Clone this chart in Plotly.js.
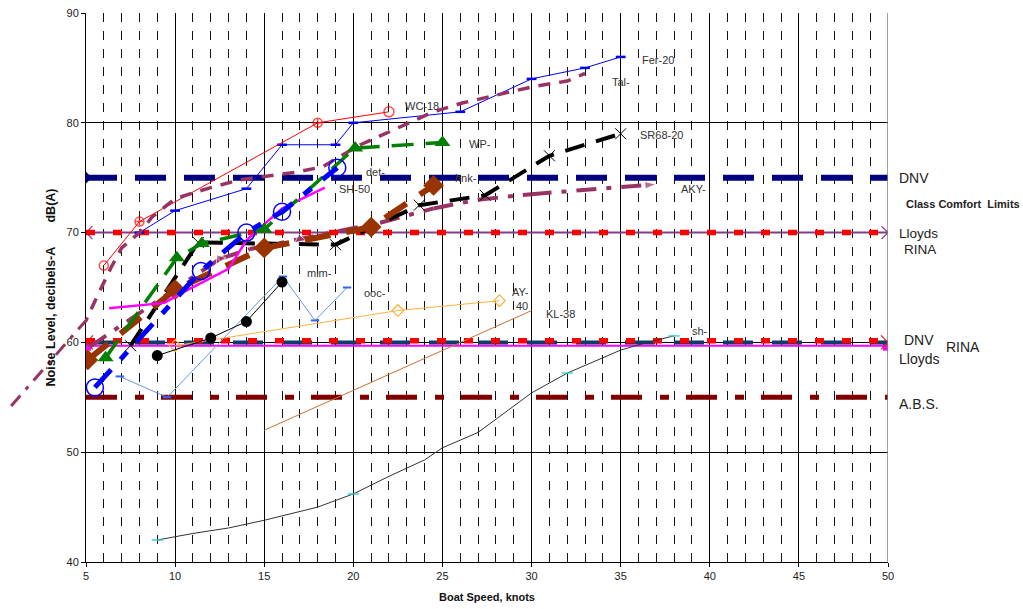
<!DOCTYPE html>
<html><head><meta charset="utf-8">
<script src="https://cdn.plot.ly/plotly-3.0.1.min.js"></script>
<style>html,body{margin:0;padding:0;background:#fff}#chart{width:1023px;height:609px}</style>
</head><body><div id="chart"></div>
<script>
// ---------------- data ----------------
const limitX        = [5, 50];
const dnvComfort    = [75, 75];
const lloydsComfort = [70, 70];
const rinaComfort   = [70, 70];
const dnvLimit      = [60, 60];
const lloydsLimit   = [60.15, 60.15];
const rinaLimit     = [59.7, 59.7];
const absLimit      = [55, 55];

const ferX = [8, 10, 14, 16, 19, 20, 26, 30, 33, 35];
const ferY = [70, 72, 74, 78, 78, 80, 81, 84, 85, 86];

const wcX = [6, 8, 18, 22];
const wcY = [67, 71, 80, 81];

const talX = [0.8, 5.0, 5.6, 6.4, 7.0, 8.0, 8.7, 10, 11, 12, 13.6, 16.8, 18.3, 19.2, 20.4, 21.5, 22.4, 24.5, 26.1, 28.2, 30.1, 32, 33];
const talY = [54.2, 62, 64.1, 66.8, 68.6, 70, 71.4, 73.1, 73.6, 74.1, 74.8, 75.5, 76, 76.9, 78, 78.8, 79.5, 81, 81.8, 82.6, 83.3, 83.8, 84.5];

const wpX = [6.1, 10.1, 11.5, 15, 20.1, 25];
const wpY = [58.6, 67.7, 69, 70.3, 77.7, 78.2];

const detX = [5.5, 11.45, 14, 16, 19.1];
const detY = [55.9, 66.5, 70, 71.9, 75.9];

const sh50X = [6.3, 9.4, 10.6, 13, 14, 16, 18.4];
const sh50Y = [63.1, 63.6, 64.7, 66.7, 69.3, 72.2, 74.1];

const hnkX = [5.1, 10, 15, 21, 24.5];
const hnkY = [58.4, 64.8, 68.6, 70.5, 74.3];

const srX = [7.5, 11.3, 19, 23.7, 27.4, 31, 35];
const srY = [59.7, 69.1, 68.9, 72.5, 73.4, 77, 79];

const akyX = [5.2, 12.5, 14.2, 17, 18.5, 21.5, 24.5, 27, 30, 34, 37];
const akyY = [59.6, 67.6, 68.5, 69.4, 69.9, 70.9, 72.2, 73, 73.5, 74, 74.4];

const mimX = [9, 12, 14, 16];
const mimY = [58.8, 60.4, 61.9, 65.5];

const oocX = [6.9, 9.55, 16.05, 17.85, 19.65];
const oocY = [56.9, 55.0, 66.0, 62.0, 65.0];

const ayX = [10, 22.5, 28.2];
const ayY = [59.7, 62.9, 63.8];

const klX = [15, 30];
const klY = [52, 62.9];

const shX = [9, 11, 13, 15, 18, 20, 22, 24, 25, 27, 30, 32, 33, 35, 36.5, 38];
const shY = [42, 42.6, 43.1, 43.8, 45, 46.2, 47.8, 49.3, 50.4, 51.8, 55.4, 57.2, 57.9, 59.3, 60, 60.6];
const shMarked = [9, 20, 32, 38];

const xTickStart = 5, xTickStep = 5;
const yTickStart = 40, yTickStep = 10;

// ---------------- drawing ----------------
const FONT = 'Liberation Sans, Arial, Helvetica, sans-serif';
const traces = [];
function add(t) { t.hoverinfo = 'skip'; t.showlegend = false; traces.push(t); }

// class limit lines
add({x: limitX, y: absLimit, mode: 'lines', line: {color: '#800000', width: 5, dash: '31px,18px,9px,17px'}});
add({x: limitX, y: rinaLimit, mode: 'lines+markers', line: {color: '#FF00FF', width: 2},
     marker: {symbol: 'square', size: 10, color: '#FF00FF'}});
add({x: limitX, y: dnvLimit, mode: 'lines', line: {color: '#0d3b6b', width: 4, dash: '30px,19px'}});
add({x: limitX, y: dnvLimit, mode: 'markers', marker: {symbol: 'x-thin-open', size: 14, line: {color: '#33DDEE', width: 1.2}}});
add({x: limitX, y: lloydsLimit, mode: 'lines', line: {color: '#FF0000', width: 5.5, dash: '9px,18px'}});
add({x: limitX, y: rinaComfort, mode: 'lines+markers', line: {color: '#803d8a', width: 2},
     marker: {symbol: 'x-thin-open', size: 13, line: {color: '#803d8a', width: 1.2}}});
add({x: limitX, y: lloydsComfort, mode: 'lines', line: {color: '#FF0000', width: 5.5, dash: '9px,18px'}});
add({x: limitX, y: dnvComfort, mode: 'lines', line: {color: '#000080', width: 6, dash: '31px,18px'}});
add({x: [limitX[0]], y: [dnvComfort[0]], mode: 'markers', marker: {symbol: 'diamond', size: 9, color: '#000080'}});

// boat series
add({x: shX, y: shY, mode: 'lines+markers', line: {color: '#333333', width: 1},
     marker: {symbol: 'line-ew', size: shX.map(v => shMarked.includes(v) ? 8 : 0), line: {color: '#33CCCC', width: 2}}});
add({x: klX, y: klY, mode: 'lines', line: {color: '#C87137', width: 1}});
add({x: ayX, y: ayY, mode: 'lines+markers', line: {color: '#FFB040', width: 1},
     marker: {symbol: 'diamond-open', size: 9, line: {color: '#FFA020', width: 1.2}}});
add({x: oocX, y: oocY, mode: 'lines+markers', line: {color: '#6495ED', width: 1},
     marker: {symbol: 'line-ew', size: 6, line: {color: '#3366FF', width: 2}}});
add({x: mimX, y: mimY, mode: 'lines+markers', line: {color: '#000000', width: 1},
     marker: {symbol: 'circle', size: 11, color: '#000000'}});
add({x: ferX, y: ferY, mode: 'lines+markers', line: {color: '#0000FF', width: 1},
     marker: {symbol: 'line-ew', size: 7, line: {color: '#0000FF', width: 2.5}}});
add({x: wcX, y: wcY, mode: 'lines+markers', line: {color: '#FF0000', width: 1},
     marker: {symbol: ['circle-open', 'circle-cross-open', 'circle-cross-open', 'circle-open'], size: [9, 9, 9, 10], line: {color: '#FF0000', width: 1.5}}});
add({x: talX, y: talY, mode: 'lines', line: {color: '#993366', width: 3.5, dash: '12px,9px'}});
add({x: talX, y: talY, xaxis: 'x2', yaxis: 'y2', mode: 'lines', line: {color: '#993366', width: 3, dash: '14px,8px,4px,8px'}});
add({x: akyX, y: akyY, mode: 'lines+markers', line: {color: '#993366', width: 4, dash: '20px,10px,5px,10px'},
     marker: {symbol: akyX.map((v, i) => i === akyX.length - 1 ? 'arrow' : 'triangle-left'),
              size: akyX.map((v, i) => (i === akyX.length - 1) ? 12 : (i === 1 || i === 3 ? 10 : 0)),
              angleref: 'previous', color: '#993366'}});
add({x: srX, y: srY, mode: 'lines+markers', line: {color: '#000000', width: 4, dash: '20px,12px'},
     marker: {symbol: 'x-thin-open', size: 11, line: {color: '#000000', width: 1}}});
add({x: hnkX, y: hnkY, mode: 'lines+markers', line: {color: '#993300', width: 6, dash: '26px,16px'},
     marker: {symbol: 'diamond', size: 16, color: '#993300'}});
add({x: sh50X, y: sh50Y, mode: 'lines', line: {color: '#FF00FF', width: 2.5}});
add({x: wpX, y: wpY, mode: 'lines+markers', line: {color: '#008000', width: 3.5, dash: '22px,12px'},
     marker: {symbol: 'triangle-up', size: 14, color: '#008000'}});
add({x: detX, y: detY, mode: 'lines+markers', line: {color: '#0000FF', width: 5, dash: '24px,14px,10px,14px'},
     marker: {symbol: 'circle-open', size: 17, line: {color: '#0000FF', width: 1.5}}});

// ---------------- labels ----------------
const PLOT_W = 888; // paper width in px (left margin 0)
function lbl(text, x, y, size) {
  return {text: text, x: x, y: y, xref: 'x', yref: 'y', xanchor: 'left', yanchor: 'middle', showarrow: false,
          font: {family: FONT, size: size || 11, color: '#333'}};
}
function side(text, px, y, size, bold) {
  return {text: bold ? '<b>' + text + '</b>' : text, x: px / PLOT_W, y: y, xref: 'paper', yref: 'y', xanchor: 'left', yanchor: 'middle',
          showarrow: false, font: {family: FONT, size: size, color: '#222'}};
}
const annotations = [
  lbl('Fer-20', 36.1, 85.7), lbl('Tal-', 34.4, 83.7), lbl('WC-18', 22.8, 81.5),
  lbl('SR68-20', 36.0, 78.9), lbl('WP-', 26.4, 78.1), lbl('det-', 20.6, 75.5),
  lbl('hnk-', 25.6, 75.0), lbl('SH-50', 19.1, 74.0), lbl('AKY-', 38.3, 74.0),
  lbl('mim-', 17.3, 66.3), lbl('ooc-', 20.5, 64.5), lbl('AY-', 28.8, 64.6),
  lbl('40', 29.0, 63.3), lbl('KL-38', 30.7, 62.6), lbl('sh-', 38.9, 61.0),
  side('DNV', 897, 75.0, 14), side('Class Comfort\u00A0\u00A0Limits', 904, 72.6, 11, true),
  side('Lloyds', 897, 69.95, 13.5), side('RINA', 902, 68.45, 13.5),
  side('DNV', 902, 60.2, 14), side('RINA', 944, 59.6, 14), side('Lloyds', 897, 58.5, 14),
  side('A.B.S.', 897, 54.4, 14)
];

const layout = {
  width: 1023, height: 609,
  margin: {l: 0, r: 135, t: 13, b: 47, pad: 0},
  paper_bgcolor: '#ffffff', plot_bgcolor: '#ffffff',
  showlegend: false,
  font: {family: FONT, size: 11, color: '#222'},
  xaxis: {
    domain: [86 / PLOT_W, 1], range: [5, 50], anchor: 'y',
    tickmode: 'linear', tick0: xTickStart, dtick: xTickStep,
    ticks: 'outside', ticklen: 4, tickcolor: '#000', tickfont: {family: FONT, size: 11, color: '#222'},
    showline: true, linecolor: '#000', linewidth: 1, zeroline: false,
    showgrid: true, gridcolor: '#000', gridwidth: 1,
    minor: {tickmode: 'linear', tick0: 5, dtick: 1, showgrid: true, gridcolor: '#111', gridwidth: 1, griddash: '9px,9px', ticks: ''},
    title: {text: '<b>Boat Speed, knots</b>', font: {family: FONT, size: 11, color: '#111'}, standoff: 12},
    automargin: false, fixedrange: true
  },
  yaxis: {
    domain: [0, 1], range: [40, 90], anchor: 'x',
    tickmode: 'linear', tick0: yTickStart, dtick: yTickStep,
    ticks: 'outside', ticklen: 4, tickcolor: '#000', tickfont: {family: FONT, size: 11, color: '#222'},
    showline: true, linecolor: '#000', linewidth: 1, zeroline: false,
    showgrid: true, gridcolor: '#000', gridwidth: 1,
    title: {text: '<b>Noise Level, decibels-A\u00A0\u00A0\u00A0\u00A0\u00A0\u00A0\u00A0dB(A)</b>', font: {family: FONT, size: 12.5, color: '#111'}, standoff: 8},
    automargin: false, fixedrange: true
  },
  xaxis2: {domain: [0, 86 / PLOT_W], range: [5 - 86 / ((PLOT_W - 86) / 45), 5], anchor: 'y2', visible: false, fixedrange: true},
  yaxis2: {domain: [0, 1], range: [40, 90], anchor: 'x2', visible: false, fixedrange: true},
  shapes: [
    {type: 'line', xref: 'x', yref: 'y', x0: 50, x1: 50, y0: 40, y1: 90, line: {color: '#808080', width: 1.5}}
  ],
  annotations: annotations
};

Plotly.newPlot('chart', traces, layout, {displayModeBar: false, staticPlot: true});
</script>
</body></html>
